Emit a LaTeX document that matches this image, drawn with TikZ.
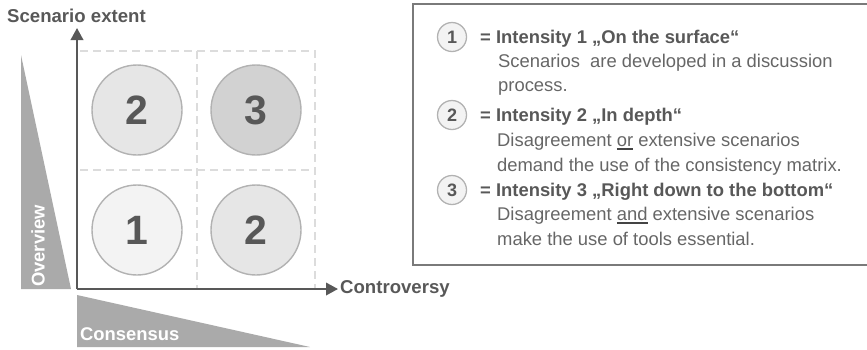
\documentclass[tikz,border=0pt]{standalone}
\usepackage{fontspec}
\setmainfont{Liberation Sans}
\usetikzlibrary{arrows.meta}
\definecolor{axisgray}{HTML}{585858}
\definecolor{gridgray}{HTML}{DCDCDC}
\definecolor{wedgegray}{HTML}{AAAAAA}
\definecolor{ringgray}{HTML}{B2B2B2}
\definecolor{fillone}{HTML}{F3F3F3}
\definecolor{filltwo}{HTML}{E6E6E6}
\definecolor{fillthree}{HTML}{D2D2D2}
\definecolor{headgray}{HTML}{585858}
\definecolor{bodygray}{HTML}{666666}
\definecolor{framegray}{HTML}{7A7A7A}
\definecolor{ulgray}{HTML}{444444}
\newcommand\ulword[1]{\setbox0=\hbox{#1}\rlap{\color{ulgray}\rule[-3.6pt]{\wd0}{1.8pt}}\box0\relax}
\begin{document}
\begin{tikzpicture}[x=1pt,y=-1pt,
  axislabel/.style={font=\fontsize{18.6}{20}\selectfont\bfseries, text=headgray, inner sep=0pt},
  wedgelabel/.style={font=\fontsize{18.4}{20}\selectfont\bfseries, text=white, inner sep=0pt},
  bigdisc/.style={circle, draw=ringgray, line width=1.4pt, minimum size=90pt, inner sep=0pt,
    font=\fontsize{41}{44}\selectfont\bfseries, text=axisgray},
  smalldisc/.style={circle, draw=ringgray, fill=fillone, line width=1.3pt, minimum size=29pt, inner sep=0pt,
    font=\fontsize{18}{20}\selectfont\bfseries, text=headgray},
  headline/.style={anchor=base west, inner sep=0pt, font=\fontsize{18.4}{20}\selectfont\bfseries, text=headgray},
  bodyline/.style={anchor=base west, inner sep=0pt, font=\fontsize{18.4}{20}\selectfont, text=bodygray},
  gridline/.style={draw=gridgray, line width=1.4pt, dash pattern=on 8pt off 5pt},
  axisline/.style={draw=axisgray, line width=2pt, -{Triangle[length=12pt,width=12.5pt]}}
]
\useasboundingbox (0,0) rectangle (867,349);

% wedges along the axes
\fill[wedgegray] (21,55) -- (21,289) -- (71,289) -- cycle;
\fill[wedgegray] (77,295) -- (77,347) -- (310,347) -- cycle;
\node[wedgelabel, rotate=90, anchor=base west] (overview) at (44.5,287) {Overview};
\node[wedgelabel, anchor=base west] (consensus) at (80,340) {Consensus};

% dashed quadrant grid
\draw[gridline] (80,51) -- (315,51) -- (315,289);
\draw[gridline] (80,170) -- (315,170);
\draw[gridline] (197,51) -- (197,289);

% axes
\coordinate (origin) at (77,289);
\coordinate (ytip) at (77,28);
\coordinate (xtip) at (338,289);
\draw[axisline] (origin) -- (ytip);
\draw[axisline] (origin) -- (xtip);
\node[axislabel, anchor=base west] (ylabel) at (7,22.5) {Scenario extent};
\node[axislabel, anchor=west] (xlabel) at (340,289) {Controversy};

% quadrants
\node[bigdisc, fill=filltwo] (q21) at (137,110) {2};
\node[bigdisc, fill=fillthree] (q22) at (256,110) {3};
\node[bigdisc, fill=fillone] (q11) at (137,230) {1};
\node[bigdisc, fill=filltwo] (q12) at (256,230) {2};

% legend frame
\draw[framegray, line width=1.5pt] (867,4) -- (413,4) -- (413,265) -- (867,265);

% legend entries
\node[smalldisc] (k1) at (452,37) {1};
\node[headline] (h1) at (480,43.5) {= Intensity 1 „On the surface“};
\node[bodyline] (b1a) at (498,67) {Scenarios\ \ are developed in a discussion};
\node[bodyline] (b1b) at (498,91) {process.};

\node[smalldisc] (k2) at (452,115) {2};
\node[headline] (h2) at (480,121.5) {= Intensity 2 „In depth“};
\node[bodyline] (b2a) at (497,146) {Disagreement \ulword{or} extensive scenarios};
\node[bodyline] (b2b) at (497,171) {demand the use of the consistency matrix.};

\node[smalldisc] (k3) at (452,190) {3};
\node[headline] (h3) at (480,196.5) {= Intensity 3 „Right down to the bottom“};
\node[bodyline] (b3a) at (497,220) {Disagreement \ulword{and} extensive scenarios};
\node[bodyline] (b3b) at (497,245) {make the use of tools essential.};
\end{tikzpicture}
\end{document}
